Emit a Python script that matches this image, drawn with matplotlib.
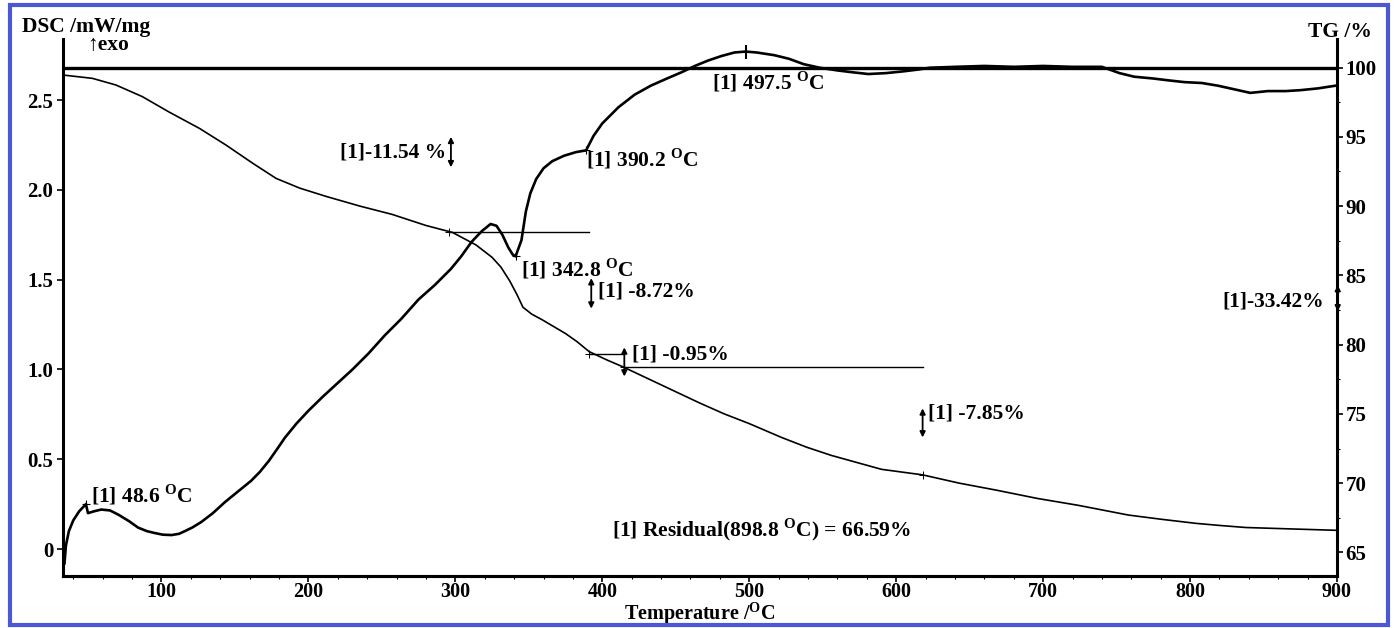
import matplotlib
matplotlib.use("Agg")
import matplotlib.pyplot as plt
from matplotlib.patches import Rectangle
from matplotlib.ticker import MultipleLocator

plt.rcParams['font.family'] = ['Liberation Serif', 'DejaVu Sans']
plt.rcParams['font.weight'] = 'bold'
plt.rcParams['mathtext.fontset'] = 'custom'
plt.rcParams['mathtext.rm'] = 'Liberation Serif:bold'

# DSC curve, mW/mg
dsc_temp = [34, 35, 37, 40, 44, 48.6, 50, 54, 59, 65, 71, 78, 84, 90, 95, 101,
            107, 112, 116, 121, 127, 135, 143, 152, 161, 167, 173, 179, 184,
            192, 200, 210, 218, 230, 241, 252, 263, 275, 286, 297, 304, 311,
            318, 324, 328, 332, 336, 339, 341, 345, 348, 351, 355, 360, 366,
            374, 382, 389, 394, 400, 411, 422, 433, 444, 454, 463, 472, 481,
            490, 497.5, 505, 517, 527, 537, 548, 560, 570, 581, 593, 605, 615,
            623, 640, 660, 680, 700, 720, 740, 752, 762, 775, 785, 796, 808,
            819, 830, 841, 853, 865, 875, 887, 899]
dsc_val = [-0.08, 0.02, 0.10, 0.16, 0.21, 0.25, 0.20, 0.21, 0.22, 0.215, 0.19,
           0.155, 0.12, 0.10, 0.09, 0.08, 0.078, 0.085, 0.10, 0.12, 0.15, 0.20,
           0.26, 0.32, 0.38, 0.43, 0.49, 0.56, 0.62, 0.70, 0.77, 0.85, 0.91,
           1.00, 1.09, 1.19, 1.28, 1.39, 1.47, 1.56, 1.63, 1.71, 1.77, 1.81,
           1.80, 1.75, 1.68, 1.64, 1.63, 1.72, 1.88, 1.98, 2.06, 2.12, 2.16,
           2.19, 2.21, 2.22, 2.30, 2.37, 2.46, 2.53, 2.58, 2.62, 2.655, 2.69,
           2.72, 2.745, 2.765, 2.77, 2.765, 2.75, 2.73, 2.70, 2.68, 2.665,
           2.655, 2.645, 2.65, 2.66, 2.67, 2.68, 2.685, 2.69, 2.685, 2.69,
           2.685, 2.685, 2.65, 2.63, 2.62, 2.61, 2.60, 2.595, 2.58, 2.56, 2.54,
           2.55, 2.55, 2.555, 2.565, 2.58]

# TG curve, %
tg_temp = [33, 53, 69, 87, 105, 126, 144, 162, 178, 194, 212, 235, 257, 280,
           298, 314, 325, 331, 337, 342, 346, 352, 359, 367, 375, 383, 391,
           403, 414, 432, 450, 466, 483, 500, 522, 539, 556, 573, 590, 618,
           643, 668, 696, 724, 758, 780, 804, 820, 838, 868, 899]
tg_val = [99.46, 99.22, 98.74, 97.9, 96.8, 95.6, 94.4, 93.1, 92.0, 91.3, 90.7,
          90.0, 89.4, 88.6, 88.1, 87.2, 86.3, 85.6, 84.6, 83.6, 82.7, 82.2,
          81.8, 81.3, 80.8, 80.2, 79.5, 78.9, 78.4, 77.5, 76.6, 75.8, 75.0,
          74.3, 73.3, 72.6, 72.0, 71.5, 71.0, 70.6, 70.0, 69.5, 68.9, 68.4,
          67.7, 67.4, 67.1, 66.95, 66.8, 66.7, 66.6]

# mass-loss step annotations: (temperature, arrow top, arrow bottom, label)
step_arrows = [(297, 95.0, 92.8, '[1]-11.54 %'),
               (392.5, 84.8, 82.6, '[1] -8.72%'),
               (415, 79.8, 77.7, '[1] -0.95%'),
               (618, 75.4, 73.3, '[1] -7.85%'),
               (900.5, 84.3, 82.4, '[1]-33.42%')]
step_lines = [(296, 391, 88.1), (391, 415, 79.3), (415, 618, 78.4)]
peak_temp = [48.6, 341, 389, 497.5]
peak_text = ['[1] 48.6 $^{\\mathrm{O}}$C', '[1] 342.8 $^{\\mathrm{O}}$C',
             '[1] 390.2 $^{\\mathrm{O}}$C', '[1] 497.5 $^{\\mathrm{O}}$C']

fs = 15.5

fig = plt.figure(figsize=(13.96, 6.28), dpi=100)
ax = fig.add_axes([63 / 1396, 1 - 576 / 628, (1337 - 63) / 1396, (576 - 39) / 628])
ax2 = ax.twinx()

ax.plot(dsc_temp, dsc_val, color='black', lw=1.9)
ax2.plot(tg_temp, tg_val, color='black', lw=1.2)
ax2.axhline(100, color='black', lw=2.4)

ax.set_xlim(33, 900)
ax.set_ylim(-0.15, 2.84)
ax2.set_ylim(63.3, 102.06)

# peak markers on the DSC curve
for t in peak_temp[:3]:
    ax.plot(t, dsc_val[dsc_temp.index(t)], marker='+', color='black', ms=6, mew=0.8)
ax.plot(497.5, 2.77, marker='|', color='black', ms=10, mew=1.5)

ax.text(52, 0.30, peak_text[0], fontsize=fs, va='center')
ax.text(345, 1.56, peak_text[1], fontsize=fs, va='center')
ax.text(389, 2.17, peak_text[2], fontsize=fs, va='center')
ax.text(475, 2.60, peak_text[3], fontsize=fs, va='center')
ax.text(508, 0.11, '[1] Residual(898.8 $^{\\mathrm{O}}$C) = 66.59%', fontsize=fs,
        ha='center', va='center')

# TG step lines and arrows
for t0, t1, v in step_lines:
    ax2.plot([t0, t1], [v, v], color='black', lw=1.0)
    ax2.plot(t0, v, marker='+', color='black', ms=6, mew=0.7)
ax2.plot(618, 70.6, marker='+', color='black', ms=6, mew=0.7)

for t, top, bot, label in step_arrows:
    ax2.annotate('', xy=(t, top), xytext=(t, bot),
                 arrowprops=dict(arrowstyle='<|-|>', color='black', lw=1.3,
                                 mutation_scale=8, shrinkA=0, shrinkB=0),
                 annotation_clip=False)
ax2.text(294, 93.9, step_arrows[0][3], fontsize=fs, ha='right', va='center')
ax2.text(397, 83.8, step_arrows[1][3], fontsize=fs, ha='left', va='center')
ax2.text(420, 79.3, step_arrows[2][3], fontsize=fs, ha='left', va='center')
ax2.text(622, 75.0, step_arrows[3][3], fontsize=fs, ha='left', va='center')
ax2.text(891, 83.1, step_arrows[4][3], fontsize=fs, ha='right', va='center')

# axes styling
for a in (ax, ax2):
    a.spines['top'].set_visible(False)
    for s in ('left', 'right', 'bottom'):
        a.spines[s].set_linewidth(2.2)
ax.spines['right'].set_visible(False)
ax2.spines['left'].set_visible(False)

ax.set_xticks([100, 200, 300, 400, 500, 600, 700, 800, 900])
ax.xaxis.set_minor_locator(MultipleLocator(20))
ax.set_yticks([0, 0.5, 1.0, 1.5, 2.0, 2.5])
ax.set_yticklabels(['0', '0.5', '1.0', '1.5', '2.0', '2.5'])
ax2.set_yticks([65, 70, 75, 80, 85, 90, 95, 100])
ax2.yaxis.set_minor_locator(MultipleLocator(2.5))
ax.tick_params(axis='y', which='major', direction='out', length=4, width=1.2,
               labelsize=15, pad=3)
ax.tick_params(axis='x', which='major', direction='out', length=4, width=1.2,
               labelsize=14.5, pad=0.5)
ax.tick_params(axis='x', which='minor', direction='out', length=2.5, width=0.8)
ax2.tick_params(axis='y', which='major', direction='out', length=4, width=1.2,
                labelsize=15, pad=2)
ax2.tick_params(axis='y', which='minor', direction='out', length=2.5, width=0.8)
for lab in ax.get_xticklabels() + ax.get_yticklabels() + ax2.get_yticklabels():
    lab.set_fontweight('bold')

ax.set_xlabel('Temperature /$^{\\mathrm{O}}$C', fontsize=14.5, fontweight='bold')
ax.xaxis.label.set_va('center')
ax.xaxis.set_label_coords(0.5, (576 - 614) / 537)

fig.text(22 / 1396, 1 - 27 / 628, 'DSC /mW/mg', fontsize=fs, fontweight='bold',
         ha='left', va='center')
fig.text(87 / 1396, 1 - 45 / 628, '\u2191exo', fontsize=fs, fontweight='bold',
         ha='left', va='center')
fig.text(1372 / 1396, 1 - 32 / 628, 'TG /%', fontsize=fs, fontweight='bold',
         ha='right', va='center')

# blue frame of the slide
fig.patches.append(Rectangle((10 / 1396, 3 / 628), 1378 / 1396, 620 / 628,
                             transform=fig.transFigure, fill=False,
                             edgecolor='#4a58d4', lw=3))

fig.savefig('out.png', dpi=100)
